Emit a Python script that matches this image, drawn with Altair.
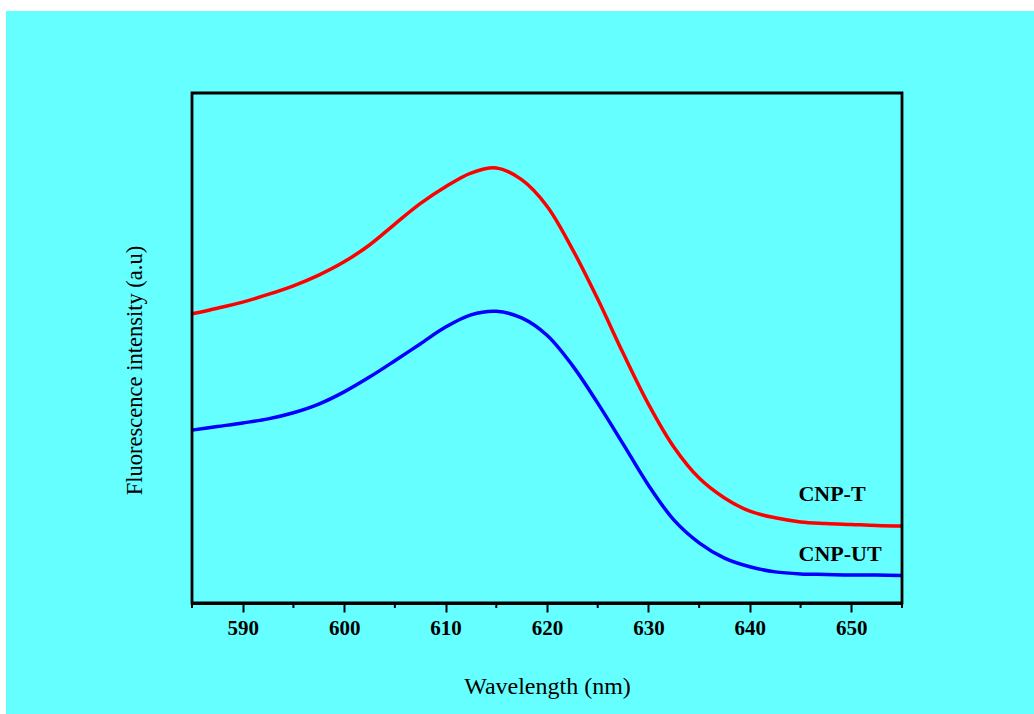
import altair as alt
import pandas as pd

# ---- data ----
wavelength = [585, 587.5, 590, 592.5, 595, 597.5, 600, 602.5, 605, 607.5, 610, 612.5,
              615, 617.5, 620, 622.5, 625, 627.5, 630, 632.5, 635, 637.5, 640, 642.5,
              645, 647.5, 650, 652.5, 655]
cnp_t = [56.7, 57.8, 59.0, 60.5, 62.2, 64.3, 66.9, 70.2, 74.3, 78.3, 81.6, 84.3,
         85.3, 83.0, 77.8, 69.4, 59.6, 49.0, 39.0, 30.6, 24.5, 20.6, 18.0, 16.7,
         15.9, 15.6, 15.4, 15.2, 15.1]
cnp_ut = [33.9, 34.6, 35.3, 36.1, 37.3, 39.0, 41.4, 44.3, 47.5, 50.8, 54.1, 56.5,
          57.2, 55.9, 52.5, 46.6, 39.2, 31.2, 23.1, 16.3, 11.8, 8.8, 7.1, 6.1,
          5.7, 5.6, 5.5, 5.5, 5.4]
series_names = ["CNP-T", "CNP-UT"]
series_colors = ["#FF0000", "#0000FF"]
label_names = ["CNP-T", "CNP-UT"]
label_x = [648.1, 648.9]
label_y = [21.3, 9.6]
major_ticks = [590, 600, 610, 620, 630, 640, 650]
minor_ticks = [585, 595, 605, 615, 625, 635, 645, 655]

# ---- tables ----
rows = []
for name, vals in zip(series_names, [cnp_t, cnp_ut]):
    for w, v in zip(wavelength, vals):
        rows.append({"wavelength": w, "intensity": v, "series": name})
df = pd.DataFrame(rows)
labels_df = pd.DataFrame({"wavelength": label_x, "intensity": label_y, "label": label_names})
minor_df = pd.DataFrame({"wavelength": minor_ticks})

W, H = 710, 510
FONT = "Liberation Serif"

xscale = alt.Scale(domain=[585, 655], nice=False, zero=False)
yscale = alt.Scale(domain=[0, 100], nice=False, zero=False)
xaxis = alt.Axis(values=major_ticks, title="Wavelength (nm)", format="d",
                 tickSize=9, tickWidth=2, tickColor="black",
                 domainWidth=3, domainColor="black", grid=False,
                 labelFont=FONT, labelFontSize=21, labelFontWeight="bold", labelColor="black",
                 labelPadding=5, titleFont=FONT, titleFontSize=24, titleFontWeight="normal",
                 titleColor="black", titlePadding=36, zindex=1)
yaxis = alt.Axis(title="Fluorescence intensity (a.u)", labels=False, ticks=False,
                 domain=False, grid=False, titleFont=FONT, titleFontSize=22.5,
                 titleFontWeight="normal", titleColor="black", titleX=-46, titleY=277,
                 zindex=1)

bg = alt.Chart(alt.Data(values=[{}])).mark_rect(fill="#66FFFF", stroke=None).encode(
    x=alt.value(-186), x2=alt.value(842), y=alt.value(-82), y2=alt.value(621))

lines = alt.Chart(df).mark_line(strokeWidth=3.5, interpolate="catmull-rom").encode(
    x=alt.X("wavelength:Q", scale=xscale, axis=xaxis),
    y=alt.Y("intensity:Q", scale=yscale, axis=yaxis),
    color=alt.Color("series:N", scale=alt.Scale(domain=series_names, range=series_colors),
                    legend=None),
)

texts = alt.Chart(labels_df).mark_text(font=FONT, fontSize=22, fontWeight="bold",
                                       color="black", align="center", baseline="middle").encode(
    x=alt.X("wavelength:Q", scale=xscale),
    y=alt.Y("intensity:Q", scale=yscale),
    text="label:N",
)

minor = alt.Chart(minor_df).mark_rule(color="black", strokeWidth=2).encode(
    x=alt.X("wavelength:Q", scale=xscale),
    y=alt.value(H), y2=alt.value(H + 5),
)

frame = alt.Chart(alt.Data(values=[{}])).mark_rect(fill=None, fillOpacity=0, stroke="black",
                                                    strokeWidth=2.8).encode(
    x=alt.value(0), x2=alt.value(W), y=alt.value(0), y2=alt.value(H))

chart = alt.layer(bg, lines, texts, minor, frame).properties(
    width=W, height=H,
    background="white",
    padding={"left": 192, "top": 93, "right": 132, "bottom": 111},
    autosize=alt.AutoSizeParams(type="none"),
).configure_view(stroke=None)

chart.save("out.html", embed_options={"renderer": "svg", "actions": False})
